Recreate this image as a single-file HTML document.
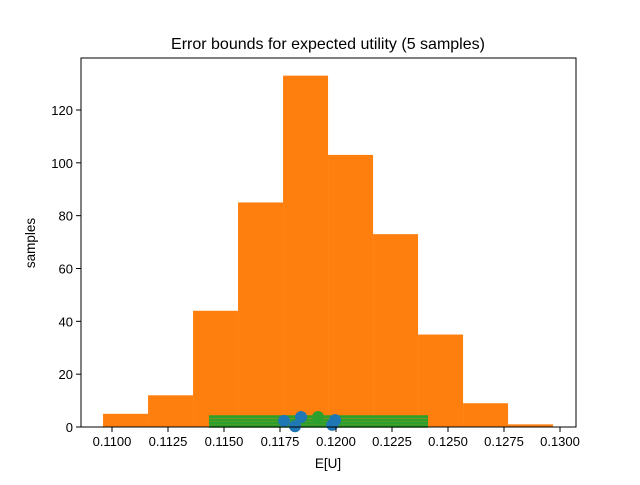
<!DOCTYPE html>
<html><head><meta charset="utf-8"><style>body{margin:0;background:#fff}svg{font-family:"Liberation Sans","DejaVu Sans",sans-serif}</style></head>
<body>
<svg id="c" width="640" height="480"></svg>
<script>
const binStart = 0.10960;
const binWidth = 0.002009;
const counts = [5, 12, 44, 85, 133, 103, 73, 35, 9, 1];
const boundLow = 0.11433;
const boundHigh = 0.12411;
const boundLevels = [3.9, 2.6, 1.4, 0.3];
const blueX = [0.11768, 0.11817, 0.11844, 0.11996, 0.11983];
const blueY = [2.3, 0.3, 3.8, 2.6, 0.8];
const greenX = [0.11920];
const greenY = [3.8];
const xTicks = [0.1100, 0.1125, 0.1150, 0.1175, 0.1200, 0.1225, 0.1250, 0.1275, 0.1300];
const yTicks = [0, 20, 40, 60, 80, 100, 120];

const svg = document.getElementById('c');
const NS = 'http://www.w3.org/2000/svg';
const L = 81, R = 576, T = 58, B = 427;
const sx = v => 112 + (v - 0.11) * 22400;
const sy = v => B - v * 2.6417;
function mk(tag, attrs, parent) {
  const e = document.createElementNS(NS, tag);
  for (const k in attrs) e.setAttribute(k, attrs[k]);
  (parent || svg).appendChild(e);
  return e;
}
counts.forEach((c, i) => {
  const x0 = sx(binStart + i * binWidth), x1 = sx(binStart + (i + 1) * binWidth);
  const r = mk('rect', {x: x0, y: sy(c), width: x1 - x0, height: B - sy(c), fill: '#ff7f0e'});
  
  
});
boundLevels.forEach(v => {
  const l = mk('line', {x1: sx(boundLow), x2: sx(boundHigh), y1: sy(v), y2: sy(v), stroke: '#2ca02c', 'stroke-width': 3});
  
  
});
blueX.forEach((x, i) => {
  const p = mk('circle', {cx: sx(x), cy: sy(blueY[i]), r: 6, fill: '#1f77b4'});
  
  
});
greenX.forEach((x, i) => {
  const p = mk('circle', {cx: sx(x), cy: sy(greenY[i]), r: 6, fill: '#2ca02c'});
  
  
});
const frame = mk('rect', {x: L, y: T, width: R - L, height: B - T, fill: 'none', stroke: '#000', 'stroke-width': 1});


xTicks.forEach(v => {
  const x = sx(v);
  mk('line', {x1: x, x2: x, y1: B, y2: B + 5, stroke: '#000'});
  const t = mk('text', {x: x, y: B + 19, 'font-size': 13, 'text-anchor': 'middle'});
  t.textContent = v.toFixed(4);
  
  
});
yTicks.forEach(v => {
  const y = sy(v);
  mk('line', {x1: L - 5, x2: L, y1: y, y2: y, stroke: '#000'});
  const t = mk('text', {x: L - 8, y: y + 5, 'font-size': 13, 'text-anchor': 'end'});
  t.textContent = v;
  
  
});
</script>
<svg style="position:absolute;left:0;top:0" width="640" height="480">
<text x="328" y="49" font-size="16" text-anchor="middle" font-family="Liberation Sans, sans-serif">Error bounds for expected utility (5 samples)</text>
<text x="328" y="468" font-size="13.5" text-anchor="middle" font-family="Liberation Sans, sans-serif">E[U]</text>
<text x="35" y="243" font-size="13.5" text-anchor="middle" transform="rotate(-90 35 243)" font-family="Liberation Sans, sans-serif">samples</text>
</svg>
</body></html>
